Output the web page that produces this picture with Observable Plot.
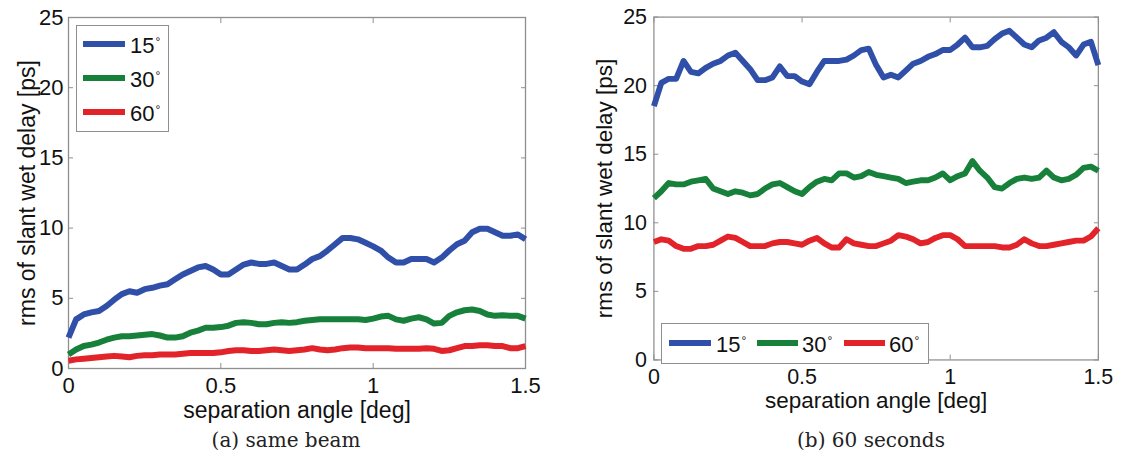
<!DOCTYPE html>
<html><head><meta charset="utf-8">
<script src="https://cdn.jsdelivr.net/npm/d3@7"></script>
<script src="https://cdn.jsdelivr.net/npm/@observablehq/plot@0.6"></script>
<style>
html,body{margin:0;padding:0;background:#fff}
#root{position:relative;width:1134px;height:464px;overflow:hidden;background:#fff;font-family:"Liberation Sans",Arial,sans-serif;color:#111}
.panel{position:absolute;top:0}
.legend{position:absolute;border:1.3px solid #8f8f8f;background:#fff;box-sizing:border-box}
.item{position:absolute;font-size:22px;line-height:22px;white-space:nowrap;color:#111}
.sw{position:absolute;height:6px}
.item sup{font-size:12px;position:relative;top:-4px;vertical-align:top;margin-left:1px}
.cap{position:absolute;font-family:"DejaVu Serif",serif;font-size:20px;color:#222;text-align:center;width:400px}
</style></head>
<body><div id="root">
<div id="pa" class="panel" style="left:0px"></div>
<div id="pb" class="panel" style="left:587px"></div>
</div>
<script>
// sampling grid step of the separation angle (deg)
const angleStep = 0.025;
const xTicks = [0, 0.5, 1, 1.5];
const yTicks = [0, 5, 10, 15, 20, 25];
const seriesKeys = ["15", "30", "60"];
const seriesColors = ["#2f4fa8", "#17803a", "#e3232a"];
const xLabel = "separation angle [deg]";
const yLabel = "rms of slant wet delay [ps]";
const captions = ["(a) same beam", "(b) 60 seconds"];

// (a) same beam
const sameBeam15 = [2.2,3.5,3.85,4.0,4.1,4.45,4.9,5.3,5.5,5.4,5.65,5.75,5.9,6.0,6.35,6.7,6.95,7.2,7.3,7.05,6.7,6.7,7.05,7.4,7.55,7.45,7.45,7.55,7.3,7.05,7.05,7.4,7.8,8.0,8.4,8.85,9.3,9.3,9.2,8.95,8.7,8.4,7.9,7.55,7.55,7.8,7.8,7.8,7.55,7.9,8.4,8.85,9.1,9.7,9.95,9.95,9.7,9.45,9.45,9.55,9.2];
const sameBeam30 = [1.0,1.35,1.6,1.7,1.85,2.05,2.2,2.3,2.3,2.35,2.4,2.45,2.35,2.2,2.2,2.3,2.55,2.7,2.9,2.9,2.95,3.05,3.25,3.3,3.25,3.15,3.15,3.25,3.3,3.25,3.3,3.4,3.45,3.5,3.5,3.5,3.5,3.5,3.5,3.45,3.55,3.7,3.75,3.5,3.4,3.55,3.65,3.5,3.2,3.25,3.75,4.0,4.15,4.2,4.1,3.85,3.75,3.8,3.75,3.75,3.55];
const sameBeam60 = [0.55,0.65,0.7,0.75,0.8,0.85,0.9,0.85,0.8,0.9,0.95,0.95,1.0,1.0,1.0,1.05,1.1,1.1,1.1,1.1,1.15,1.25,1.3,1.3,1.25,1.25,1.3,1.35,1.3,1.25,1.3,1.35,1.45,1.35,1.3,1.35,1.45,1.5,1.5,1.45,1.45,1.45,1.45,1.4,1.4,1.4,1.4,1.45,1.4,1.25,1.3,1.45,1.6,1.6,1.65,1.65,1.6,1.6,1.45,1.45,1.6];

// (b) 60 seconds
const sec60_15 = [18.5,20.2,20.5,20.5,21.8,21.0,20.9,21.3,21.6,21.8,22.2,22.4,21.8,21.2,20.4,20.4,20.6,21.4,20.7,20.7,20.3,20.1,21.0,21.8,21.8,21.8,21.9,22.2,22.6,22.7,21.5,20.6,20.8,20.6,21.1,21.6,21.8,22.1,22.3,22.6,22.6,23.0,23.5,22.8,22.8,22.9,23.4,23.8,24.0,23.5,23.0,22.8,23.3,23.5,23.9,23.2,22.8,22.2,23.0,23.2,21.5];
const sec60_30 = [11.8,12.3,12.9,12.8,12.8,13.0,13.1,13.2,12.5,12.3,12.1,12.3,12.2,12.0,12.1,12.5,12.8,12.9,12.6,12.3,12.1,12.6,13.0,13.2,13.1,13.6,13.6,13.3,13.4,13.7,13.5,13.4,13.3,13.2,12.9,13.0,13.1,13.1,13.3,13.6,13.1,13.4,13.6,14.5,13.8,13.3,12.6,12.5,12.9,13.2,13.3,13.2,13.3,13.8,13.3,13.1,13.2,13.5,14.0,14.1,13.8];
const sec60_60 = [8.6,8.8,8.7,8.3,8.1,8.1,8.3,8.3,8.4,8.7,9.0,8.9,8.6,8.3,8.3,8.3,8.5,8.6,8.6,8.5,8.4,8.7,8.9,8.5,8.2,8.2,8.8,8.5,8.4,8.3,8.3,8.5,8.7,9.1,9.0,8.8,8.5,8.6,8.9,9.1,9.1,8.8,8.3,8.3,8.3,8.3,8.3,8.2,8.2,8.4,8.8,8.5,8.3,8.3,8.4,8.5,8.6,8.7,8.7,9.0,9.6];

function tidy(lists) {
  return lists.flatMap((vals, k) => vals.map((v, i) => ({x: +(i * angleStep).toFixed(3), y: v, key: seriesKeys[k]})));
}

const frameColor = "#8f8f8f";

function makePanel(lists, padY, labelDx, marginRight) {
  const data = tidy(lists);
  return Plot.plot({
    width: 560, height: 420,
    marginLeft: 68, marginRight, marginTop: 17, marginBottom: 52,
    style: {fontFamily: "'Liberation Sans', Arial, sans-serif", fontSize: "22px", color: "#111", background: "transparent", overflow: "visible"},
    x: {domain: [0, 1.5]},
    y: {domain: [0, 25]},
    color: {domain: seriesKeys, range: seriesColors},
    marks: [
      Plot.frame({stroke: frameColor, strokeWidth: 1.3}),
      Plot.axisX(xTicks, {anchor: "bottom", tickSize: -5, tickFormat: () => "", label: null, stroke: frameColor}),
      Plot.axisX(xTicks, {anchor: "top", tickSize: -5, tickFormat: () => "", label: null, stroke: frameColor}),
      Plot.axisY(yTicks, {anchor: "left", tickSize: -5, tickFormat: () => "", label: null, stroke: frameColor}),
      Plot.axisY(yTicks, {anchor: "right", tickSize: -5, tickFormat: () => "", label: null, stroke: frameColor}),
      Plot.axisX(xTicks, {anchor: "bottom", tickSize: 0, tickPadding: 9, tickFormat: d => String(d), label: null, fontSize: 22}),
      Plot.axisY(yTicks, {anchor: "left", tickSize: 0, tickPadding: padY, tickFormat: d => String(d), label: null, fontSize: 22}),
      Plot.line(data, {x: "x", y: "y", z: "key", stroke: "key", strokeWidth: 6, strokeLinejoin: "round", strokeLinecap: "butt"}),
      Plot.text([xLabel], {frameAnchor: "bottom", dy: 42, lineAnchor: "middle", textAnchor: "middle", fontSize: 23, fill: "#111"}),
      Plot.text([yLabel], {frameAnchor: "left", dx: labelDx, rotate: -90, textAnchor: "middle", lineAnchor: "middle", fontSize: 23, fill: "#111"})
    ]
  });
}

document.getElementById("pa").appendChild(makePanel([sameBeam15, sameBeam30, sameBeam60], 5, -41, 35));
document.getElementById("pb").appendChild(makePanel([sec60_15, sec60_30, sec60_60], 7, -50, 37));

const root = document.getElementById("root");
function addLegend(box, items) {
  const lg = document.createElement("div");
  lg.className = "legend";
  Object.assign(lg.style, {left: box[0] + "px", top: box[1] + "px", width: box[2] + "px", height: box[3] + "px"});
  root.appendChild(lg);
  items.forEach((it, i) => {
    const sw = document.createElement("div");
    sw.className = "sw";
    Object.assign(sw.style, {left: it.lx + "px", top: (it.ly - 3) + "px", width: it.lw + "px", background: seriesColors[i], position: "absolute"});
    root.appendChild(sw);
    const t = document.createElement("div");
    t.className = "item";
    t.style.left = it.tx + "px";
    t.style.top = (it.ly - 9) + "px";
    t.innerHTML = seriesKeys[i] + "<sup>°</sup>";
    root.appendChild(t);
  });
}
addLegend([76, 25, 93, 107], [
  {lx: 83, lw: 42, ly: 44, tx: 130},
  {lx: 83, lw: 42, ly: 78, tx: 130},
  {lx: 83, lw: 42, ly: 112, tx: 130}
]);
addLegend([661, 323, 268, 41], [
  {lx: 669, lw: 42, ly: 343, tx: 716},
  {lx: 757, lw: 41, ly: 343, tx: 802},
  {lx: 844, lw: 41, ly: 343, tx: 889}
]);

[[286, captions[0]], [871, captions[1]]].forEach(([cx, txt]) => {
  const c = document.createElement("div");
  c.className = "cap";
  c.style.left = (cx - 200) + "px";
  c.style.top = "428px";
  c.textContent = txt;
  root.appendChild(c);
});
</script>
</body></html>
